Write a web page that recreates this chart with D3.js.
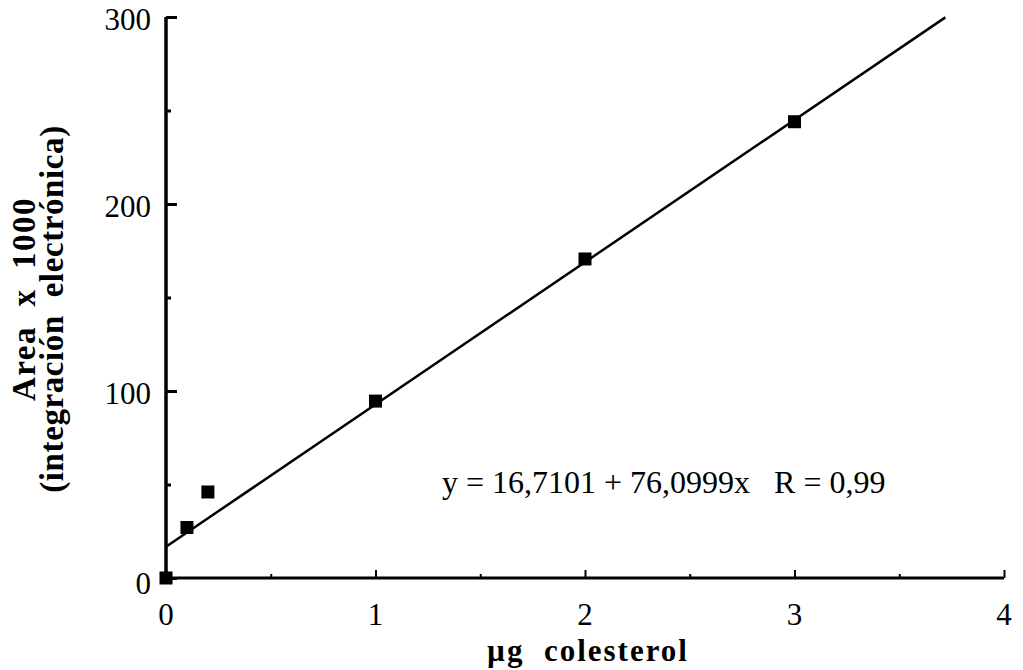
<!DOCTYPE html>
<html>
<head>
<meta charset="utf-8">
<script src="https://d3js.org/d3.v7.min.js"></script>
<style>
  body { margin: 0; background: #fff; }
  text { font-family: "Liberation Serif", "DejaVu Serif", serif; fill: #000; }
</style>
</head>
<body>
<div class="chart"></div>
<script>
// data
var xValues = [0, 0.1, 0.2, 1, 2, 3];
var yValues = [0, 27, 46, 94.6, 170.6, 244];
var fitIntercept = 16.7101;
var fitSlope = 76.0999;
var xTicks = [0, 1, 2, 3, 4];
var yTicks = [0, 100, 200, 300];
var equationText = "y = 16,7101 + 76,0999x   R = 0,99";

function init(){
    drawChart(".chart");
}

function drawChart(id){
    var W = 1023, H = 670;
    var svg = d3.select(id).append("svg")
        .attr("width", W)
        .attr("height", H);

    var x = d3.scaleLinear().domain([0, 4]).range([166, 1004]);
    var y = d3.scaleLinear().domain([0, 300]).range([578, 17]);

    // x axis
    var xAxis = d3.axisBottom(x)
        .tickValues(d3.range(0, 4.01, 0.5))
        .tickSize(-8)
        .tickFormat("");
    var gx = svg.append("g")
        .attr("transform", `translate(0, ${y(0)})`)
        .call(xAxis);
    gx.select(".domain").attr("d", `M${x(0)},0H${x(4)}`).attr("stroke-width", 3);
    gx.selectAll(".tick line")
        .attr("stroke-width", 2)
        .attr("y2", d => Number.isInteger(d) ? -8 : -4);

    svg.selectAll(".xlab")
        .data(xTicks)
        .join("text")
        .attr("class", "xlab")
        .attr("x", d => x(d))
        .attr("y", 625)
        .attr("text-anchor", "middle")
        .style("font-size", "31px")
        .text(d => d);

    // y axis
    var yAxis = d3.axisLeft(y)
        .tickValues(d3.range(0, 301, 50))
        .tickSize(-11)
        .tickFormat("");
    var gy = svg.append("g")
        .attr("transform", `translate(${x(0)}, 0)`)
        .call(yAxis);
    gy.select(".domain").attr("d", `M0,${y(0)}V${y(300)}`).attr("stroke-width", 3.5);
    gy.selectAll(".tick line")
        .attr("stroke-width", 3)
        .attr("x2", d => d % 100 === 0 ? 11 : 5);

    svg.selectAll(".ylab")
        .data(yTicks)
        .join("text")
        .attr("class", "ylab")
        .attr("x", 151)
        .attr("y", d => y(d) + (d === 0 ? 16 : 13))
        .attr("text-anchor", "end")
        .style("font-size", "31px")
        .text(d => d);

    // regression line
    var xEnd = 3.72;
    svg.append("line")
        .attr("x1", x(0))
        .attr("y1", y(fitIntercept))
        .attr("x2", x(xEnd))
        .attr("y2", y(fitIntercept + fitSlope * xEnd))
        .attr("stroke", "#000")
        .attr("stroke-width", 2.5);

    // points
    var pts = xValues.map((v, i) => ({x: v, y: yValues[i]}));
    svg.selectAll(".pt")
        .data(pts)
        .join("rect")
        .attr("class", "pt")
        .attr("x", d => x(d.x) - 6.5)
        .attr("y", d => y(d.y) - 6.5)
        .attr("width", 13)
        .attr("height", 13)
        .attr("fill", "#000");

    // equation
    svg.append("text")
        .attr("x", 442)
        .attr("y", 493)
        .style("font-size", "32px")
        .style("white-space", "pre")
        .text(equationText);

    // axis titles
    svg.append("text")
        .attr("x", 588)
        .attr("y", 661)
        .attr("text-anchor", "middle")
        .style("font-size", "31px")
        .style("font-weight", "bold")
        .style("letter-spacing", "2px")
        .style("white-space", "pre")
        .text("\u00b5g  colesterol");

    var yt = svg.append("g")
        .attr("transform", "rotate(-90)");
    yt.append("text")
        .attr("x", -299)
        .attr("y", 35)
        .attr("text-anchor", "middle")
        .style("font-size", "33px")
        .style("font-weight", "bold")
        .style("letter-spacing", "1.5px")
        .style("white-space", "pre")
        .text("Area  x  1000");
    yt.append("text")
        .attr("x", -309)
        .attr("y", 63)
        .attr("text-anchor", "middle")
        .style("font-size", "33px")
        .style("font-weight", "bold")
        .style("letter-spacing", "0.6px")
        .style("white-space", "pre")
        .text("(integración  electrónica)");
}

init();
</script>
</body>
</html>
